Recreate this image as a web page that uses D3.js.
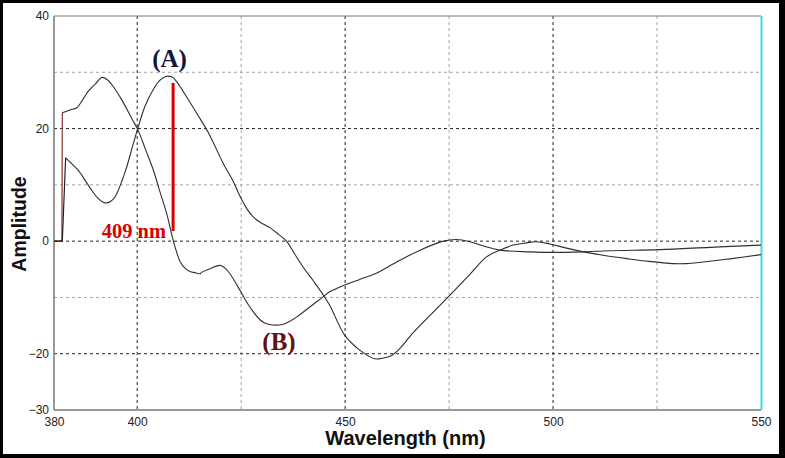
<!DOCTYPE html>
<html>
<head>
<meta charset="utf-8">
<script src="https://cdn.jsdelivr.net/npm/d3@7"></script>
<style>
  body { margin: 0; background: #fff; }
  svg { display: block; }
</style>
</head>
<body>
<svg id="chart" width="785" height="458"></svg>
<script>
// spectrum (B) - first peak near 391 nm, min near 434 nm
let wlB = [380, 381.9, 382, 383.8, 385.5, 386.8, 388.2, 389.9, 391.6, 393.1, 394.5, 396.3, 398.7, 400.1,
  402, 403.9, 405.5, 407.1, 408.2, 409.3, 410.3, 411.5, 412.7, 414, 415.1, 415.6, 417.5, 419.9, 421,
  422.3, 424.7, 427.1, 430.3, 434.3, 436, 438.3, 441.5, 444.7, 446.3, 449.9, 453.5, 457.2, 462.4,
  468, 473.6, 476.8, 480, 483.5, 487.2, 494.4, 500, 507, 513.7, 525.7, 537.7, 550];
let ampB = [0, 0, 22.8, 23.3, 23.7, 25.0, 26.6, 27.9, 29.1, 28.5, 27.2, 25.1, 21.8, 19.9,
  16.3, 12.6, 8.7, 4.9, 1.5, -1.5, -3.6, -4.8, -5.4, -5.6, -5.8, -5.5, -4.9, -4.3, -4.7,
  -5.8, -8.7, -11.7, -14.4, -14.9, -14.5, -13.5, -11.7, -9.9, -9.0, -7.8, -6.8, -5.8, -3.7,
  -1.6, 0, 0.3, -0.1, -0.9, -1.6, -1.9, -2.0, -1.9, -1.7, -1.5, -1.1, -0.7];

// spectrum (A) - peak at 409 nm
let wlA = [380, 382, 382.8, 383.8, 385.8, 388.2, 390.6, 392.3, 393.5, 394.7, 397.1, 399.1, 400.1,
  401.9, 403.9, 405.5, 407.1, 408.2, 408.7, 410, 411.9, 414.5, 417.1, 420.7, 423.1, 424.7, 426.5,
  427.9, 429.5, 431.9, 434, 435.9, 437.8, 439.9, 442.3, 444.7, 446.3, 449.9, 453.6, 457.2, 459,
  461.2, 463.5, 465.6, 470.4, 475.2, 480, 484, 487.2, 490.4, 493.6, 496, 499.2, 503, 507.3, 512,
  517.7, 523, 528.9, 532, 536.1, 543, 550];
let ampA = [0, 0, 14.8, 14.1, 12.6, 10.0, 7.6, 6.8, 7.0, 7.9, 12.3, 17.4, 19.9,
  24.0, 27.0, 28.6, 29.3, 29.2, 29.0, 27.8, 25.6, 22.5, 19.3, 13.8, 10.6, 8.0, 5.6,
  4.3, 3.4, 2.4, 1.2, 0, -2.2, -4.6, -7.0, -9.5, -11.4, -16.7, -19.4, -20.9, -20.8,
  -20.3, -18.8, -16.9, -13.2, -9.6, -5.9, -2.8, -1.6, -0.7, -0.3, -0.1, -0.5, -1.2, -1.9, -2.5,
  -3.1, -3.6, -4.0, -4.0, -3.7, -3.1, -2.4];

let xTicks = [380, 400, 450, 500, 550];
let yTicks = [40, 20, 0, -20, -30];
let xGridMajor = [400, 450, 500];
let xGridMinor = [425, 475, 525];
let yGridMajor = [20, 0, -20];
let yGridMinor = [30, 10, -10];
let peakWl = 409;
let peakTop = 28.1, peakBottom = 1.8;

let W = 785, H = 458;
let svg = d3.select('#chart');

// black frame around the whole picture
svg.append('rect').attr('width', W).attr('height', H).attr('fill', '#000');
svg.append('rect').attr('x', 3).attr('y', 3).attr('width', 776).attr('height', 451).attr('fill', '#fff');

let xScale = d3.scaleLinear().domain([380, 550]).range([54, 761]);
let yScale = d3.scaleLinear().domain([-30, 40]).range([410, 16]);

// grid
let grid = svg.append('g');
grid.selectAll('.vmin').data(xGridMinor).join('line')
  .attr('x1', d => xScale(d)).attr('x2', d => xScale(d))
  .attr('y1', yScale(40)).attr('y2', yScale(-30))
  .attr('stroke', '#a5a5a5').attr('stroke-width', 1).attr('stroke-dasharray', '3,3');
grid.selectAll('.vmaj').data(xGridMajor).join('line')
  .attr('x1', d => xScale(d)).attr('x2', d => xScale(d))
  .attr('y1', yScale(40)).attr('y2', yScale(-30))
  .attr('stroke', '#222').attr('stroke-width', 1).attr('stroke-dasharray', '3,3');
grid.selectAll('.hmin').data(yGridMinor).join('line')
  .attr('x1', xScale(380)).attr('x2', xScale(550))
  .attr('y1', d => yScale(d)).attr('y2', d => yScale(d))
  .attr('stroke', '#a5a5a5').attr('stroke-width', 1).attr('stroke-dasharray', '3,3');
grid.selectAll('.hmaj').data(yGridMajor).join('line')
  .attr('x1', xScale(380)).attr('x2', xScale(550))
  .attr('y1', d => yScale(d)).attr('y2', d => yScale(d))
  .attr('stroke', '#222').attr('stroke-width', 1).attr('stroke-dasharray', '3,3');

// plot frame
svg.append('line').attr('x1', 54).attr('x2', 761).attr('y1', 16).attr('y2', 16).attr('stroke', '#777');
svg.append('line').attr('x1', 54).attr('x2', 54).attr('y1', 16).attr('y2', 410).attr('stroke', '#777').attr('stroke-width', 1.5);
svg.append('line').attr('x1', 54).attr('x2', 761).attr('y1', 410).attr('y2', 410).attr('stroke', '#777').attr('stroke-width', 1.5);
svg.append('line').attr('x1', 761.5).attr('x2', 761.5).attr('y1', 16).attr('y2', 410).attr('stroke', '#3fd9dc').attr('stroke-width', 2);

// axes
let xAxis = svg.append('g')
  .attr('transform', `translate(0,${yScale(-30)})`)
  .call(d3.axisBottom(xScale).tickValues(xTicks).tickSize(0).tickPadding(7));
let yAxis = svg.append('g')
  .attr('transform', `translate(${xScale(380)},0)`)
  .call(d3.axisLeft(yScale).tickValues(yTicks).tickSize(0).tickPadding(5));
[xAxis, yAxis].forEach(a => {
  a.select('.domain').remove();
  a.selectAll('text').attr('font-family', 'Liberation Sans, Arial, sans-serif')
    .attr('font-size', 12).attr('fill', '#222');
});

// spectra: the step at the start is straight, the rest smoothed
let straight = d3.line().x(d => xScale(d[0])).y(d => yScale(d[1]));
let smooth = d3.line().x(d => xScale(d[0])).y(d => yScale(d[1])).curve(d3.curveCatmullRom.alpha(0.5));
function drawSpectrum(wl, amp, colour, stepColour) {
  let pts = d3.zip(wl, amp);
  let k = amp.findIndex(v => v !== 0);
  svg.append('path').datum(pts.slice(0, k + 1)).attr('d', straight)
    .attr('fill', 'none').attr('stroke', stepColour).attr('stroke-width', 1.2);
  svg.append('path').datum(pts.slice(k)).attr('d', smooth)
    .attr('fill', 'none').attr('stroke', colour).attr('stroke-width', 1.1);
}
drawSpectrum(wlB, ampB, '#3a2c2c', '#8a3434');
drawSpectrum(wlA, ampA, '#2e2e2e', '#222');

// 409 nm marker
svg.append('line')
  .attr('x1', xScale(peakWl) - 1.5).attr('x2', xScale(peakWl) - 1.5)
  .attr('y1', yScale(peakTop)).attr('y2', yScale(peakBottom))
  .attr('stroke', '#d90000').attr('stroke-width', 3);
svg.append('text').attr('x', 166).attr('y', 238).attr('text-anchor', 'end')
  .attr('font-family', 'Liberation Serif, Times New Roman, serif').attr('font-weight', 'bold')
  .attr('font-size', 20.5).attr('fill', '#d90000').text('409 nm');

svg.append('text').attr('x', 169.5).attr('y', 67).attr('text-anchor', 'middle')
  .attr('font-family', 'Liberation Serif, Times New Roman, serif').attr('font-weight', 'bold')
  .attr('font-size', 25).attr('fill', '#14143c').text('(A)');
svg.append('text').attr('x', 279).attr('y', 350).attr('text-anchor', 'middle')
  .attr('font-family', 'Liberation Serif, Times New Roman, serif').attr('font-weight', 'bold')
  .attr('font-size', 25).attr('fill', '#5e1212').text('(B)');

// axis titles
svg.append('text').attr('x', 405.5).attr('y', 445).attr('text-anchor', 'middle')
  .attr('font-family', 'Liberation Sans, Arial, sans-serif').attr('font-weight', 'bold')
  .attr('font-size', 20).attr('fill', '#111').text('Wavelength (nm)');
svg.append('text').attr('transform', 'translate(26,224) rotate(-90)').attr('text-anchor', 'middle')
  .attr('font-family', 'Liberation Sans, Arial, sans-serif').attr('font-weight', 'bold')
  .attr('font-size', 19.5).attr('fill', '#111').text('Amplitude');
</script>
</body>
</html>
